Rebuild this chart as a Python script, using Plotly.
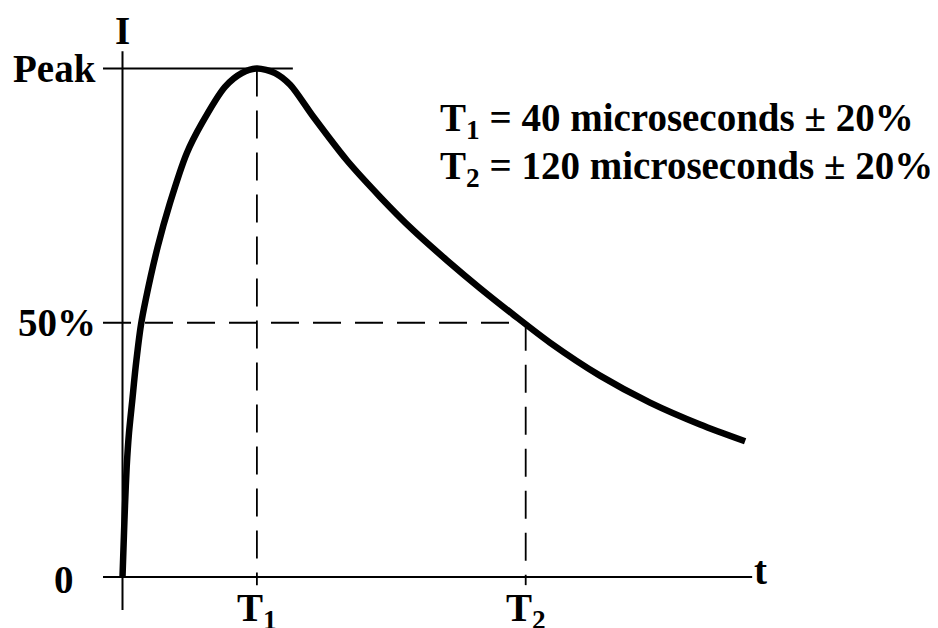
"""
Lightning impulse current waveform: rise to peak at T1, decay to 50% at T2.
"""

import plotly.graph_objects as go

# waveform (time in microseconds, current in % of peak)
t_us = [0, 0.45, 0.74, 1.25, 1.93, 2.92, 3.93, 5.5, 6.9, 10.5, 14.1, 19.1,
        23.6, 30.5, 35.5, 40.0, 45.4, 49.9, 56.8, 66.7, 76.6, 86.5, 96.5,
        106.4, 116.3, 127.2, 142.1, 157.0, 171.9, 185.3]
current_pct = [0, 8.7, 14.0, 21.7, 28.3, 34.8, 41.4, 49.6, 54.5, 65.0, 73.5,
               83.3, 89.2, 96.4, 99.1, 100.0, 99.1, 96.8, 90.5, 82.0, 74.8,
               68.2, 62.3, 56.8, 51.6, 46.1, 39.6, 34.3, 30.0, 26.7]

T1 = 40      # microseconds, time to peak
T2 = 120     # microseconds, time to half value
PEAK = 100   # %
HALF = 50    # %

y_tick_vals = [0, HALF, PEAK]
y_tick_text = ["0", "50%", "Peak"]
x_tick_vals = [T1, T2]
x_tick_text = ["T<sub>1</sub>", "T<sub>2</sub>"]
notes = ["T<sub>1</sub> = 40 microseconds ± 20%",
         "T<sub>2</sub> = 120 microseconds ± 20%"]

FONT = "Liberation Serif, Times New Roman, serif"
# page body has an 8px margin, so the figure is drawn 8px smaller
W, H = 930, 620
PX_PER_US = 3.36
PX_PER_PCT = 5.085
X0_PX, Y0_PX = 114.5, 569

x_range = [-X0_PX / PX_PER_US, (W - X0_PX) / PX_PER_US]
y_range = [-(H - Y0_PX) / PX_PER_PCT, Y0_PX / PX_PER_PCT]

fig = go.Figure()

fig.add_trace(go.Scatter(
    x=t_us, y=current_pct, mode="lines",
    line=dict(color="black", width=6.5, shape="spline", smoothing=0.8),
    hoverinfo="skip", showlegend=False,
))

axis_line = dict(color="black", width=2)
thin = dict(color="black", width=1.8)
dashed = dict(color="black", width=1.8, dash="28px,14px")

X_START, X_END = -5.8, 187.4
Y_BOTTOM, Y_TOP = -6.5, 103.4

# axes
fig.add_shape(type="line", x0=X_START, x1=X_END, y0=0, y1=0, line=axis_line)
fig.add_shape(type="line", x0=0, x1=0, y0=Y_BOTTOM, y1=Y_TOP, line=axis_line)
# peak level
fig.add_shape(type="line", x0=X_START, x1=50.7, y0=PEAK, y1=PEAK, line=thin)
# guide lines
fig.add_shape(type="line", x0=T1, x1=T1, y0=PEAK, y1=0, line=dashed)
fig.add_shape(type="line", x0=X_START, x1=T2, y0=HALF, y1=HALF, line=dashed)
fig.add_shape(type="line", x0=T2, x1=T2, y0=HALF, y1=0, line=dashed)
for xv in x_tick_vals:
    fig.add_shape(type="line", x0=xv, x1=xv, y0=0, y1=-1.6, line=thin)

lab = dict(family=FONT, size=39, color="black")

# y labels
for yv, txt in zip(y_tick_vals, y_tick_text):
    fig.add_annotation(x=X_START, y=yv, text=f"<b>{txt}</b>", showarrow=False,
                       xanchor="right", yanchor="middle",
                       xshift=-5 if yv else -27, yshift=0 if yv else -2,
                       font=lab)
# x labels
for xv, txt in zip(x_tick_vals, x_tick_text):
    fig.add_annotation(x=xv, y=0, text=f"<b>{txt}</b>", showarrow=False,
                       xanchor="center", yanchor="top", yshift=-7, font=lab)

# axis names
fig.add_annotation(x=0, y=Y_TOP, text="<b>I</b>", showarrow=False,
                   xanchor="center", yanchor="bottom", yshift=-3, font=lab)
fig.add_annotation(x=X_END, y=0, text="<b>t</b>", showarrow=False,
                   xanchor="left", yanchor="middle", yshift=7, font=lab)

# tolerance notes
for i, txt in enumerate(notes):
    fig.add_annotation(x=94.0, y=89.8 - 9.4 * i, text=f"<b>{txt}</b>",
                       showarrow=False, xanchor="left", yanchor="middle",
                       font=lab)

fig.update_layout(
    width=W, height=H,
    margin=dict(l=0, r=0, t=0, b=0),
    plot_bgcolor="white", paper_bgcolor="white",
    xaxis=dict(range=x_range, visible=False, fixedrange=True),
    yaxis=dict(range=y_range, visible=False, fixedrange=True),
    showlegend=False,
)

fig.write_html("out.html")
